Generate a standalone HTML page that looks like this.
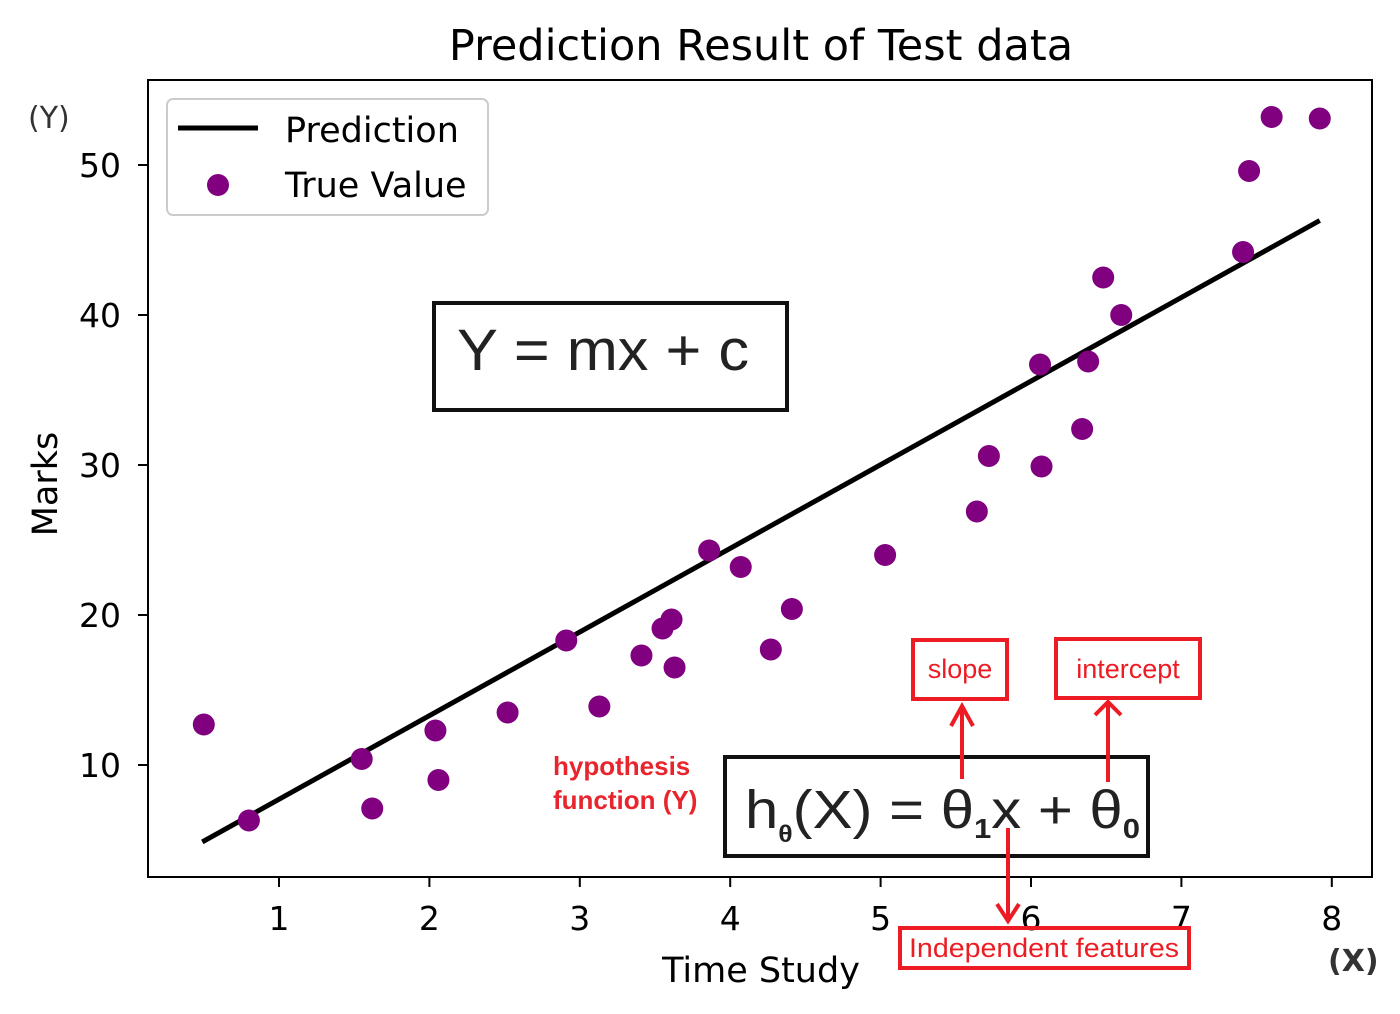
<!DOCTYPE html>
<html><head><meta charset="utf-8"><style>
html,body{margin:0;padding:0;background:#fff;}
svg{display:block;font-family:"DejaVu Sans","Liberation Sans",sans-serif;}
</style></head><body>
<svg id="chart" width="1400" height="1014" viewBox="0 0 1400 1014">
<rect x="0" y="0" width="1400" height="1014" fill="#fff"/>
<text x="761" y="60" font-size="43" text-anchor="middle">Prediction Result of Test data</text>
<g id="grid"></g>
<g id="marks"></g>
<rect x="148" y="80" width="1224" height="797" fill="none" stroke="#000" stroke-width="2"/>
<g id="axes"></g>
<text x="761" y="982" font-size="35" text-anchor="middle">Time Study</text>
<text transform="translate(57,484) rotate(-90)" font-size="35" text-anchor="middle">Marks</text>
<text x="28" y="128" font-size="30" fill="#333">(Y)</text>
<text x="1328" y="971" font-size="30" font-weight="bold" fill="#333">(X)</text>
<g>
<rect x="167" y="99" width="321" height="116" rx="6" fill="#fff" fill-opacity="0.8" stroke="#ccc" stroke-width="2"/>
<line x1="178" y1="128" x2="258" y2="128" stroke="#000" stroke-width="5"/>
<text x="285" y="142" font-size="35">Prediction</text>
<circle cx="218" cy="185" r="11" fill="#800080"/>
<text x="285" y="197" font-size="35">True Value</text>
</g>
<g>
<rect x="434" y="303" width="353" height="107" fill="#fff" stroke="#111" stroke-width="4"/>
<text x="457" y="370" font-size="58" fill="#222" font-family="Liberation Sans,sans-serif" textLength="292" lengthAdjust="spacingAndGlyphs">Y = mx + c</text>
</g>
<g>
<rect x="725" y="757" width="423" height="99" fill="#fff" stroke="#111" stroke-width="4"/>
<text x="745" y="828" font-size="54" fill="#222" font-family="Liberation Sans,sans-serif" textLength="395" lengthAdjust="spacingAndGlyphs">h<tspan font-size="24" font-weight="bold" dy="14">θ</tspan><tspan dy="-14">(X) = θ</tspan><tspan font-size="28" font-weight="bold" dy="10">1</tspan><tspan dy="-10">x + θ</tspan><tspan font-size="28" font-weight="bold" dy="10">0</tspan></text>
</g>
<text x="553" y="775" font-size="26" font-weight="bold" fill="#e8242c" font-family="Liberation Sans,sans-serif">hypothesis</text>
<text x="553" y="809" font-size="26" font-weight="bold" fill="#e8242c" font-family="Liberation Sans,sans-serif">function (Y)</text>
<g stroke="#ed1c24" stroke-width="4" fill="none">
<rect x="913" y="640" width="94" height="59"/>
<rect x="1056" y="639" width="144" height="59"/>
<rect x="900" y="928" width="289" height="40"/>
<line x1="962" y1="779" x2="962" y2="706"/><polyline points="951,726 962,706 973,726"/>
<line x1="1108" y1="782" x2="1108" y2="702"/><polyline points="1095,715 1108,702 1121,715"/>
<line x1="1008" y1="828" x2="1008" y2="921"/><polyline points="997,904 1008,921 1019,904"/>
</g>
<text x="960" y="678" font-size="27" fill="#ed1c24" text-anchor="middle" font-family="Liberation Sans,sans-serif">slope</text>
<text x="1128" y="678" font-size="27" fill="#ed1c24" text-anchor="middle" font-family="Liberation Sans,sans-serif">intercept</text>
<text x="1044" y="957" font-size="27" fill="#ed1c24" text-anchor="middle" font-family="Liberation Sans,sans-serif" textLength="270" lengthAdjust="spacingAndGlyphs">Independent features</text>
</svg>
<script>
const xValues=[0.5,0.8,1.55,1.62,2.04,2.06,2.52,2.91,3.13,3.41,3.55,3.61,3.63,3.86,4.07,4.27,4.41,5.03,5.64,5.72,6.06,6.07,6.34,6.38,6.48,6.60,7.41,7.45,7.60,7.92];
const yValues=[12.7,6.3,10.4,7.1,12.3,9.0,13.5,18.3,13.9,17.3,19.1,19.7,16.5,24.3,23.2,17.7,20.4,24.0,26.9,30.6,36.7,29.9,32.4,36.9,42.5,40.0,44.2,49.6,53.2,53.1];
const lineX=[0.49,7.92];
const lineY=[4.87,46.3];
const xTicks=[1,2,3,4,5,6,7,8];
const yTicks=[10,20,30,40,50];
const NS='http://www.w3.org/2000/svg';
function sx(v){return 128.6+150.4*v;}
function sy(v){return 915-15*v;}
function mk(t,a){const e=document.createElementNS(NS,t);for(const k in a)e.setAttribute(k,a[k]);return e;}
const marks=document.getElementById('marks');
const ln=mk('line',{x1:sx(lineX[0]),y1:sy(lineY[0]),x2:sx(lineX[1]),y2:sy(lineY[1]),stroke:'#000','stroke-width':5});


marks.appendChild(ln);
xValues.forEach((x,i)=>{
  const c=mk('circle',{cx:sx(x),cy:sy(yValues[i]),r:11,fill:'#800080'});
  
  
  marks.appendChild(c);
});
const axes=document.getElementById('axes');
xTicks.forEach(t=>{
  const l=mk('line',{x1:sx(t),y1:877,x2:sx(t),y2:887,stroke:'#000','stroke-width':2});
  
  
  axes.appendChild(l);
  const tx=mk('text',{x:sx(t),y:930,'font-size':33,'text-anchor':'middle'});
  tx.textContent=t;
  
  
  axes.appendChild(tx);
});
yTicks.forEach(t=>{
  const l=mk('line',{x1:138,y1:sy(t),x2:148,y2:sy(t),stroke:'#000','stroke-width':2});
  
  
  axes.appendChild(l);
  const tx=mk('text',{x:121,y:sy(t)+12,'font-size':33,'text-anchor':'end'});
  tx.textContent=t;
  
  
  axes.appendChild(tx);
});
</script>
</body></html>
